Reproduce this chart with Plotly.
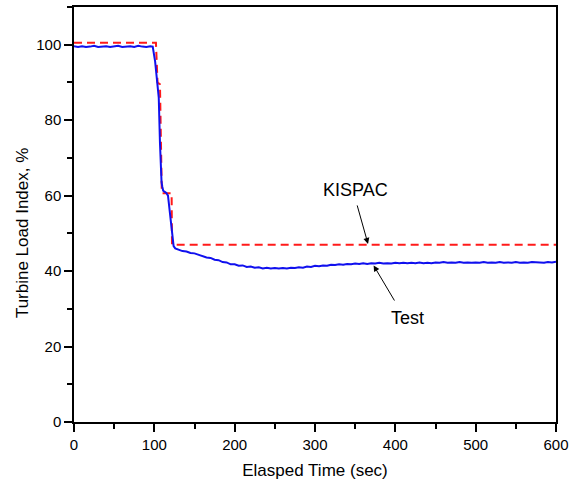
import plotly.graph_objects as go

# KISPAC (calculation) series
kispac_t = [0, 102, 104, 107, 109.3, 110, 121.5, 122, 600]
kispac_v = [100.5, 100.5, 90.0, 89.5, 61.0, 60.6, 60.6, 47.0, 47.0]

# Test series
test_t = [0, 5, 10, 15, 20, 25, 30, 35, 40, 45, 50, 55, 60, 65, 70, 75, 80, 85, 90, 95, 98,
          101, 104, 105.5, 107, 108, 109, 110, 111, 113, 115, 117, 118, 120, 122, 124, 126,
          130, 135, 140, 145, 150, 155, 160, 165, 170, 175, 180, 185, 190, 195, 200, 205,
          210, 215, 220, 225, 230, 235, 240, 245, 250, 255, 260, 265, 270, 275, 280, 285,
          290, 295, 300, 305, 310, 315, 320, 325, 330, 335, 340, 345, 350, 355, 360, 365,
          370, 375, 380, 385, 390, 395, 400, 405, 410, 415, 420, 425, 430, 435, 440, 445,
          450, 455, 460, 465, 470, 475, 480, 485, 490, 495, 500, 505, 510, 515, 520, 525,
          530, 535, 540, 545, 550, 555, 560, 565, 570, 575, 580, 585, 590, 595, 600]
test_v = [99.6, 99.4, 99.6, 99.4, 99.5, 99.7, 99.4, 99.5, 99.6, 99.4, 99.5, 99.7, 99.4, 99.5,
          99.6, 99.4, 99.7, 99.5, 99.4, 99.6, 99.5,
          95.5, 90.0, 86.0, 74.0, 67.0, 63.5, 62.3, 61.3, 61.0, 60.7, 60.0, 58.0, 53.0, 49.0,
          46.6, 46.0,
          45.6, 45.3, 45.2, 44.8, 44.7, 44.3, 44.1, 43.6, 43.5, 43.0, 42.9, 42.4, 42.3, 41.8,
          41.8, 41.4, 41.5, 41.1, 41.2, 40.9, 41.0, 40.7, 40.9, 40.7, 40.8, 40.7, 40.8, 40.7,
          40.9, 40.8, 41.0, 40.9, 41.2, 41.1, 41.4, 41.3, 41.5, 41.4, 41.7, 41.6, 41.8, 41.7,
          41.9, 41.8, 42.0, 41.9, 42.1, 41.9, 42.1, 42.0, 42.2, 42.0, 42.1, 42.0, 42.2, 42.1,
          42.2, 42.1, 42.2, 42.1, 42.3, 42.1, 42.2, 42.1, 42.3, 42.2, 42.4, 42.2, 42.3, 42.2,
          42.4, 42.2, 42.3, 42.2, 42.3, 42.2, 42.4, 42.2, 42.3, 42.2, 42.4, 42.2, 42.3, 42.2,
          42.4, 42.2, 42.3, 42.2, 42.4, 42.3, 42.3, 42.2, 42.4, 42.3, 42.5]

x_ticks = [0, 100, 200, 300, 400, 500, 600]
y_ticks = [0, 20, 40, 60, 80, 100]

FONT = "Arial, Liberation Sans, sans-serif"

fig = go.Figure()
fig.add_trace(go.Scatter(x=kispac_t, y=kispac_v, mode="lines", name="KISPAC",
                         line=dict(color="#ff1a1a", width=2, dash="8px,5px")))
fig.add_trace(go.Scatter(x=test_t, y=test_v, mode="lines", name="Test",
                         line=dict(color="#1010ee", width=2)))

axis_common = dict(showgrid=False, zeroline=False, showline=True, linecolor="black",
                   linewidth=1.5, mirror=True, ticks="outside", ticklen=8, tickwidth=1.5,
                   tickcolor="black", automargin=False,
                   tickfont=dict(family=FONT, size=15, color="black"))

fig.update_xaxes(range=[0, 600], tickvals=x_ticks, ticktext=[str(v) for v in x_ticks],
                 minor=dict(dtick=50, ticks="outside", ticklen=5, tickwidth=1.5, tickcolor="black"),
                 title=dict(text="Elasped Time (sec)", font=dict(family=FONT, size=17, color="black"),
                            standoff=12),
                 **axis_common)
fig.update_yaxes(range=[0, 110], tickvals=y_ticks, ticktext=[str(v) for v in y_ticks],
                 minor=dict(tick0=10, dtick=20, ticks="outside", ticklen=5, tickwidth=1.5,
                            tickcolor="black"),
                 **axis_common)

fig.add_annotation(x=-0.108, y=0.455, xref="paper", yref="paper", text="Turbine Load Index, %",
                   textangle=-90, showarrow=False, xanchor="center", yanchor="middle",
                   font=dict(family=FONT, size=17, color="black"))

fig.add_annotation(x=350, y=61.6, xref="x", yref="y", text="KISPAC", showarrow=False,
                   font=dict(family=FONT, size=18, color="black"))
fig.add_annotation(x=366, y=47.2, ax=352, ay=57.8, xref="x", yref="y", axref="x", ayref="y",
                   text="", showarrow=True, arrowhead=2, arrowsize=1.2, arrowwidth=1,
                   arrowcolor="black")
fig.add_annotation(x=415, y=27.5, xref="x", yref="y", text="Test", showarrow=False,
                   font=dict(family=FONT, size=18, color="black"))
fig.add_annotation(x=373, y=41.5, ax=400, ay=31.8, xref="x", yref="y", axref="x", ayref="y",
                   text="", showarrow=True, arrowhead=2, arrowsize=1.2, arrowwidth=1,
                   arrowcolor="black")

fig.update_layout(width=570, height=488, margin=dict(l=74, r=14, t=7, b=66),
                  plot_bgcolor="white", paper_bgcolor="white", showlegend=False,
                  font=dict(family=FONT, color="black"))

fig.write_html("out.html", config={"displayModeBar": False, "responsive": False},
               post_script="document.body.style.margin='0';document.body.style.overflow='hidden';")
